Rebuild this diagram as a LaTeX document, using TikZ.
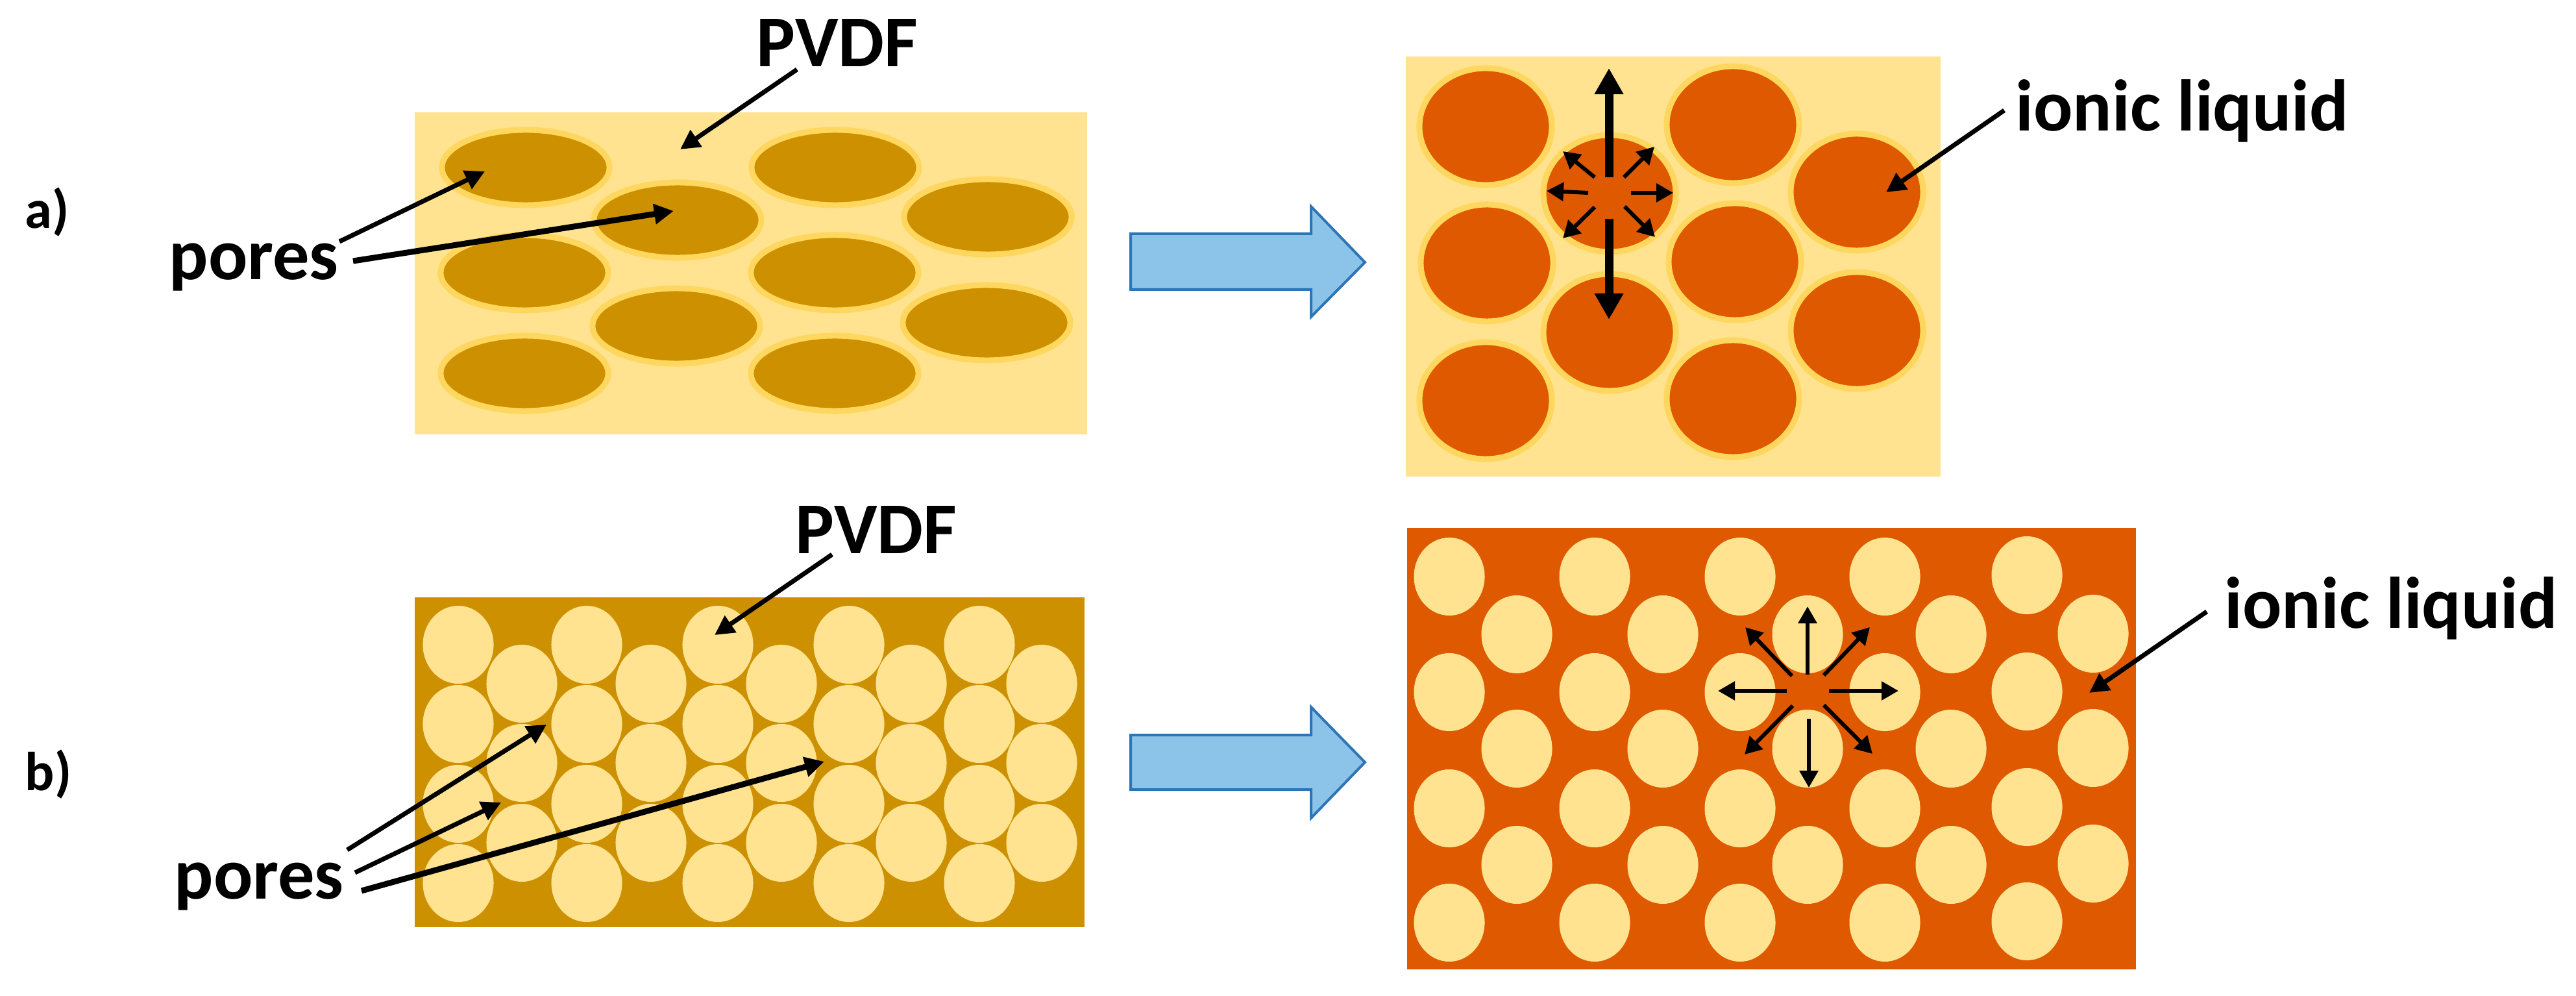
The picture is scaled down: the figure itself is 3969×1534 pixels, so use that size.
\documentclass[tikz,border=0pt]{standalone}
\usepackage{fontspec}
\setmainfont{Carlito}
\usetikzlibrary{shapes.geometric,arrows.meta}
\definecolor{pvdflight}{HTML}{FFE391}
\definecolor{halo}{HTML}{FFD75F}
\definecolor{pvdfdark}{HTML}{CC9000}
\definecolor{ionic}{HTML}{DE5900}
\definecolor{bigblue}{HTML}{8CC3E8}
\definecolor{bigedge}{HTML}{2E75B6}
\tikzstyle{label}=[inner sep=0, anchor=base west, font=\fontsize{32}{36}\selectfont\bfseries]
\tikzstyle{tag}=[inner sep=0, anchor=base west, font=\fontsize{24}{28}\selectfont\bfseries]
\tikzstyle{flat}=[ellipse, inner sep=0, outer sep=0, draw=halo, line width=.09cm]
\tikzstyle{flatpore}=[flat, fill=pvdfdark, minimum width=2.58cm, minimum height=1.16cm]
\tikzstyle{fullpore}=[flat, fill=ionic, minimum width=2.04cm, minimum height=1.80cm]
\tikzstyle{hole}=[ellipse, inner sep=0, outer sep=0, fill=pvdflight, minimum width=1.09cm, minimum height=1.20cm]
\tikzstyle{leader}=[-{Triangle[length=.30cm,width=.30cm]}, line width=.07cm]
\tikzstyle{small}=[-{Triangle[length=.26cm,width=.28cm]}, line width=.06cm]
\tikzstyle{push}=[-{Triangle[length=.40cm,width=.42cm]}, line width=.13cm]
\tikzstyle{bigarrow}=[fill=bigblue, draw=bigedge, line width=.04cm]

\begin{document}
\begin{tikzpicture}[x=.01cm,y=-.01cm]
\useasboundingbox (0,0) rectangle (3969,1534);
% panels
\fill[pvdflight] (639,173) rectangle (1675,669);
\fill[pvdflight] (2166,87) rectangle (2990,734);
\fill[pvdfdark] (639,920) rectangle (1671,1428);
\fill[ionic] (2168,813) rectangle (3291,1493);

% a) left, flat pores
\foreach \n/\x/\y in {1/810/258,2/1044/339,3/1287/258,4/1522/334,5/808/420,6/1286/420,7/1042/502,8/1520/497,9/808/575,10/1286/575}
  \draw (\x,\y) node[flatpore] (flat\n) {};
% a) right, filled pores
\foreach \n/\x/\y in {1/2289/195,2/2480/298,3/2670/192,4/2861/296,5/2291/405,6/2673/403,7/2480/512,8/2861/509,9/2289/617,10/2670/614}
  \draw (\x,\y) node[fullpore] (full\n) {};
% b) left, packed holes
\foreach \x in {706,904,1106,1308,1509}
  \foreach \y in {993,1115,1238,1360}
    \draw (\x,\y) node[hole] (packed\x-\y) {};
\foreach \x in {804,1003,1204,1404,1605}
  \foreach \y in {1053,1175,1298}
    \draw (\x,\y) node[hole] (packed\x-\y) {};
% b) right, spaced holes
\foreach \x in {2233,2457,2681,2904}
  \foreach \y in {888,1066,1245,1421}
    \draw (\x,\y) node[hole] (spaced\x-\y) {};
\foreach \x in {2337,2562,2785,3006}
  \foreach \y in {977,1153,1332}
    \draw (\x,\y) node[hole] (spaced\x-\y) {};
\foreach \y in {886,1065,1243,1419}
  \draw (3123,\y) node[hole] (spaced3123-\y) {};
\foreach \y in {976,1152,1330}
  \draw (3225,\y) node[hole] (spaced3225-\y) {};

% labels
\draw (38,352) node[tag] (tagA) {a)};
\draw (38,1217) node[tag] (tagB) {b)};
\draw (1165,103) node[label] (pvdfA) {PVDF};
\draw (1225,853) node[label] (pvdfB) {PVDF};
\draw (260,431) node[label] (poresA) {pores};
\draw (268,1384) node[label] (poresB) {pores};
\draw (3105,202) node[label] (ionicA) {ionic liquid};
\draw (3427,967) node[label] (ionicB) {ionic liquid};

% big arrows
\draw[bigarrow] (1742,360) -- (2020,360) -- (2020,318) -- (2103,404) -- (2020,488) -- (2020,446) -- (1742,446) -- cycle;
\draw[bigarrow] (1742,1132) -- (2020,1132) -- (2020,1089) -- (2103,1174) -- (2020,1260) -- (2020,1216) -- (1742,1216) -- cycle;

% connector ends
\foreach \n/\x/\y in {pvdfAs/1228/107,pvdfAe/1048/230,poresAs1/523/372,poresAe1/747/264,poresAs2/544/402,poresAe2/1038/325,
  ionicAs/3088/170,ionicAe/2906/296,pvdfBs/1282/854,pvdfBe/1101/978,poresBs1/535/1309,poresBe1/842/1116,poresBs2/547/1344,poresBe2/772/1236,
  poresBs3/557/1372,poresBe3/1270/1173,ionicBs/3400/942,ionicBe/3219/1067}
  \coordinate (\n) at (\x,\y);
\draw[leader] (pvdfAs) -- (pvdfAe);
\draw[leader] (poresAs1) -- (poresAe1);
\draw[leader, line width=.09cm] (poresAs2) -- (poresAe2);
\draw[leader] (ionicAs) -- (ionicAe);
\draw[leader] (pvdfBs) -- (pvdfBe);
\draw[leader] (poresBs1) -- (poresBe1);
\draw[leader] (poresBs2) -- (poresBe2);
\draw[leader, line width=.09cm] (poresBs3) -- (poresBe3);
\draw[leader] (ionicBs) -- (ionicBe);

% swelling pore
\foreach \n/\x/\y/\u/\v in {N/2479/273/2479/105,S/2479/337/2479/492}{
  \coordinate (swellA\n s) at (\x,\y);
  \coordinate (swellA\n e) at (\u,\v);
  \draw[push] (swellA\n s) -- (swellA\n e);
}
\foreach \n/\x/\y/\u/\v in {E/2513/297/2578/297,W/2447/297/2383/294,NE/2502/273/2549/226,NW/2457/273/2408/233,SE/2503/318/2550/365,SW/2457/319/2408/367}{
  \coordinate (swellA\n s) at (\x,\y);
  \coordinate (swellA\n e) at (\u,\v);
  \draw[small] (swellA\n s) -- (swellA\n e);
}
% swelling matrix
\foreach \n/\x/\y/\u/\v in {N/2785/1039/2785/934,S/2787/1107/2787/1213,E/2818/1064/2925/1064,W/2753/1064/2647/1064,NE/2810/1040/2881/966,NW/2761/1041/2689/966,SE/2810/1086/2885/1161,SW/2762/1087/2688/1162}{
  \coordinate (swellB\n s) at (\x,\y);
  \coordinate (swellB\n e) at (\u,\v);
  \draw[small] (swellB\n s) -- (swellB\n e);
}
\end{tikzpicture}
\end{document}
